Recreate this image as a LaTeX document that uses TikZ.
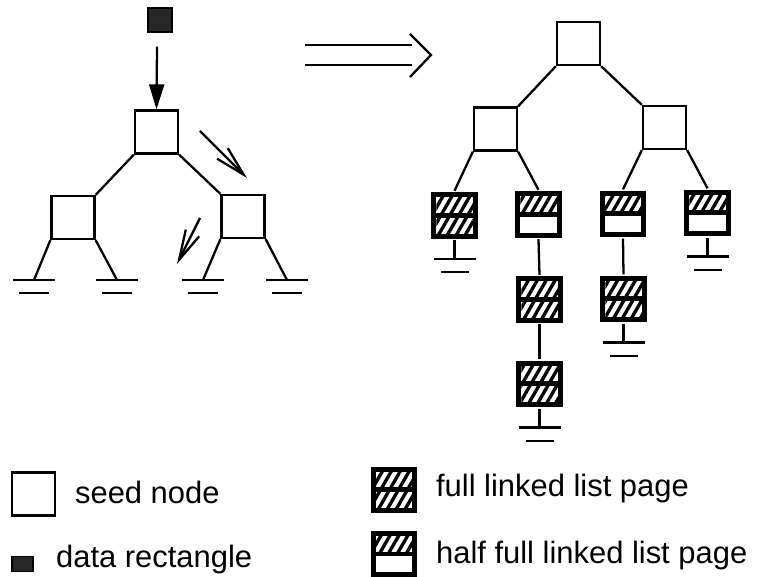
\documentclass[tikz,border=0pt]{standalone}
\usepackage{fontspec}
\setmainfont{Liberation Sans}
\usepackage{tikz}
\usetikzlibrary{calc,positioning,arrows.meta,patterns.meta}

\begin{document}
\begin{tikzpicture}[
  x=0.02cm, y=-0.02cm, line width=1.3pt,
  seed/.style={rectangle, draw, fill=white, minimum size=0.86cm, inner sep=0pt},
  datarect/.style={rectangle, fill=black!85, draw=black, line width=0.6pt,
    minimum size=0.48cm, inner sep=0pt},
  hatchfill/.style={preaction={fill=white},
    pattern={Lines[angle=60, distance=4.4pt, line width=1.9pt]}},
  pagebox/.style={rectangle, fill=black, minimum width=0.93cm,
    minimum height=0.94cm, inner sep=0pt},
  fullpg/.style={pagebox, path picture={
    \fill[hatchfill] ([shift={(0.1cm,-0.1cm)}]path picture bounding box.north west)
      rectangle ([shift={(-0.1cm,0.05cm)}]path picture bounding box.east);
    \fill[hatchfill] ([shift={(0.1cm,-0.05cm)}]path picture bounding box.west)
      rectangle ([shift={(-0.1cm,0.1cm)}]path picture bounding box.south east);}},
  halfpg/.style={pagebox, path picture={
    \fill[hatchfill] ([shift={(0.1cm,-0.1cm)}]path picture bounding box.north west)
      rectangle ([shift={(-0.1cm,0.05cm)}]path picture bounding box.east);
    \fill[white] ([shift={(0.1cm,-0.05cm)}]path picture bounding box.west)
      rectangle ([shift={(-0.1cm,0.1cm)}]path picture bounding box.south east);}},
  openarrow/.style={-{Straight Barb[length=0.6cm, width=0.3cm]}},
  legtext/.style={anchor=base west, inner sep=0pt, font=\fontsize{17.6}{20}\selectfont},
]
  \useasboundingbox (0,0) rectangle (761,577);

  % === INSERTION (left) ===
  \node[datarect] (dat) at (160,20) {};
  \node[seed] (r) at (156.5,132) {};
  \node[seed] (l) at (73,217.5) {};
  \node[seed] (rr) at (243,216.5) {};

  \draw[-{Triangle[length=0.5cm, width=0.3cm]}] ([shift={(-0.06cm,-0.28cm)}]dat.south) -- (r.north);
  \draw (r.south west) -- (l.north east);
  \draw (r.south east) -- (rr.north west);

  % leaves
  \coordinate (g1) at (34,280);
  \coordinate (g2) at (117,280);
  \coordinate (g3) at (203,280);
  \coordinate (g4) at (287,280);
  \draw (l.south west) -- (g1);
  \draw (l.south east) -- (g2);
  \draw (rr.south west) -- (g3);
  \draw (rr.south east) -- (g4);
  \foreach \g in {g1,g2,g3,g4} {
    \draw ([xshift=-0.42cm]\g) -- ([xshift=0.42cm]\g);
    \draw[line width=1pt] ([shift={(-0.3cm,-0.26cm)}]\g) -- ([shift={(0.3cm,-0.26cm)}]\g);
  }

  % search path
  \coordinate (s1) at (200,131);
  \coordinate (t1) at (247,178);
  \coordinate (s2) at (200,218);
  \coordinate (t2) at (177,264);
  \draw[openarrow] (s1) -- (t1);
  \draw[openarrow] (s2) -- (t2);

  % === ARROW ===
  \draw (305,45) -- (412,45);
  \draw (305,65) -- (412,65);
  \draw (410,34) -- (431,55) -- (410,77);

  % === RESULT (right) ===
  \node[seed] (R) at (578.5,43.5) {};
  \node[seed] (RL) at (495.5,129) {};
  \node[seed] (RR) at (664.5,127.5) {};
  \draw (R.south west) -- (RL.north east);
  \draw (R.south east) -- (RR.north west);

  % linked list pages
  \node[fullpg] (pA) at (454.5,215.5) {};
  \node[halfpg] (pB) at (538.5,214.5) {};
  \node[fullpg] (pB2) at (539.5,299.5) {};
  \node[fullpg] (pB3) at (539.5,384) {};
  \node[halfpg] (pC) at (623,214) {};
  \node[fullpg] (pC2) at (623.5,299) {};
  \node[halfpg] (pD) at (707.5,213) {};

  \draw (RL.south west) -- (pA.north);
  \draw (RL.south east) -- (pB.north);
  \draw (RR.south west) -- (pC.north);
  \draw (RR.south east) -- (pD.north);
  \draw (pB.south) -- (pB2.north);
  \draw (pB2.south) -- (pB3.north);
  \draw (pC.south) -- (pC2.north);

  % page ends
  \foreach \p in {pA,pB3,pC2,pD} {
    \draw (\p.south) -- ++(0,19) coordinate (e\p);
    \draw ([xshift=-0.42cm]e\p) -- ([xshift=0.42cm]e\p);
    \draw[line width=1pt] ([shift={(-0.28cm,-0.26cm)}]e\p) -- ([shift={(0.28cm,-0.26cm)}]e\p);
  }

  % === LEGEND ===
  \node[seed] (kseed) at (33.5,494) {};
  \node[legtext] (tseed) at (74,503) {seed node};
  \node[datarect, minimum width=0.42cm, minimum height=0.3cm] (kdat) at (22.5,564) {};
  \node[legtext] (tdat) at (55,567) {data rectangle};
  \node[fullpg] (kfull) at (394,490) {};
  \node[legtext] (tfull) at (435,497) {full linked list page};
  \node[halfpg] (khalf) at (394,554) {};
  \node[legtext] (thalf) at (435,563) {half full linked list page};
\end{tikzpicture}
\end{document}
